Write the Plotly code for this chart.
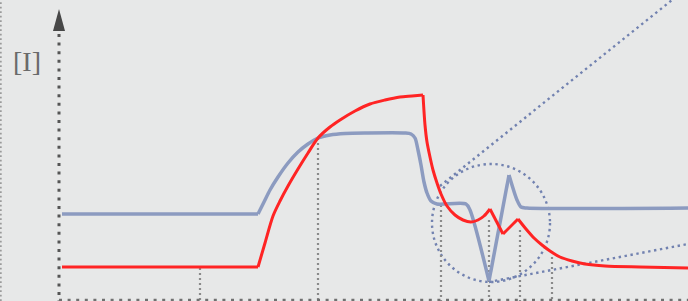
import plotly.graph_objects as go

# ---- data (schematic units: x = time, y = intensity [I]) ----
blue_x = [62, 258, 264, 270, 278, 288, 298, 308, 318, 330, 345, 365, 405, 411, 415, 418, 421, 424, 427, 431, 437, 466, 470, 489, 509, 517, 521, 527, 688]
blue_y = [87, 87, 99, 111, 124, 138, 149, 157, 163, 166, 167.5, 168, 168, 167, 163, 151, 136, 119, 108, 100, 97, 97, 91, 20, 126, 101, 94, 93, 93]
blue_corners = [1, 23, 24]

red_x = [62, 258, 265, 273, 280, 288, 298, 308, 318, 330, 340, 355, 370, 385, 400, 412, 423,
         425, 427, 430, 433, 437, 441, 447, 455, 463, 471, 478, 484, 490, 503, 518, 526, 534,
         542, 550, 560, 572, 585, 605, 640, 688]
red_y = [34, 34, 58, 85, 100, 115, 132, 148, 163, 174, 181, 190, 197, 201, 204, 205, 206,
         176, 159, 144, 131, 118, 107, 95, 86, 81, 79, 81, 85, 92, 67, 82, 72, 63,
         56, 50, 44, 40, 37, 35, 34, 33]
red_corners = [1, 16, 29, 30, 31]

drop_x = [200, 318, 441, 489, 520, 552]
drop_top = [33, 163, 96, 81, 71, 44]

zoom_cx, zoom_cy, zoom_r = 491, 78, 59
zoom_upper_x = [440, 672]
zoom_upper_y = [115, 301]
zoom_lower_x = [489, 688]
zoom_lower_y = [19, 57]

axis_origin_x = 59
axis_top_y = 267

BLUE = "#8c9bc0"
RED = "#ff2424"
ZOOMC = "#7282b0"
BG = "#e7e8e8"

fig = go.Figure()

# left dotted border
fig.add_trace(go.Scatter(x=[0.8, 0.8], y=[0, 301], mode="lines",
                         line=dict(color="#9a9a9a", width=1.8, dash="1.8px,2.7px"),
                         hoverinfo="skip", showlegend=False))

# drop lines
for dx, dt in zip(drop_x, drop_top):
    fig.add_trace(go.Scatter(x=[dx, dx], y=[dt, 0], mode="lines",
                             line=dict(color="#8a8a8a", width=2.2, dash="2px,3px"),
                             hoverinfo="skip", showlegend=False))

# zoom tangent lines
fig.add_trace(go.Scatter(x=zoom_upper_x, y=zoom_upper_y, mode="lines",
                         line=dict(color=ZOOMC, width=2.4, dash="2.4px,3.6px"),
                         hoverinfo="skip", showlegend=False))
fig.add_trace(go.Scatter(x=zoom_lower_x, y=zoom_lower_y, mode="lines",
                         line=dict(color=ZOOMC, width=2.4, dash="2.4px,3.6px"),
                         hoverinfo="skip", showlegend=False))

# axes (dotted)
fig.add_trace(go.Scatter(x=[axis_origin_x, axis_origin_x], y=[axis_top_y, 0], mode="lines",
                         line=dict(color="#555555", width=3, dash="3px,5.6px"),
                         hoverinfo="skip", showlegend=False))
fig.add_trace(go.Scatter(x=[axis_origin_x, 688], y=[1, 1], mode="lines",
                         line=dict(color="#707070", width=2.6, dash="3px,5.6px"),
                         hoverinfo="skip", showlegend=False))


def add_curve(xs, ys, corners, color, width):
    bounds = [0] + corners + [len(xs) - 1]
    for a, b in zip(bounds[:-1], bounds[1:]):
        fig.add_trace(go.Scatter(x=xs[a:b + 1], y=ys[a:b + 1], mode="lines",
                                 line=dict(color=color, width=width, shape="spline", smoothing=0.8),
                                 hoverinfo="skip", showlegend=False))


add_curve(blue_x, blue_y, blue_corners, BLUE, 3.5)
add_curve(red_x, red_y, red_corners, RED, 3)

fig.update_layout(
    width=688, height=301,
    margin=dict(l=0, r=0, t=0, b=0),
    paper_bgcolor=BG, plot_bgcolor=BG,
    xaxis=dict(range=[0, 688], visible=False, fixedrange=True),
    yaxis=dict(range=[0, 301], visible=False, fixedrange=True),
    shapes=[
        dict(type="circle", xref="x", yref="y",
             x0=zoom_cx - zoom_r, x1=zoom_cx + zoom_r,
             y0=zoom_cy - zoom_r, y1=zoom_cy + zoom_r,
             line=dict(color=ZOOMC, width=2.4, dash="2.4px,3.6px"), layer="below"),
        dict(type="path", xref="x", yref="y",
             path=f"M {axis_origin_x-6},{axis_top_y+3} L {axis_origin_x},{axis_top_y+25} L {axis_origin_x+6},{axis_top_y+3} Z",
             fillcolor="#474747", line=dict(width=0)),
    ],
    annotations=[
        dict(x=27, y=240, xref="x", yref="y", text="[I]", showarrow=False,
             font=dict(family="Liberation Serif", size=28, color="#6a6a6a"))
    ],
)

fig.write_html("out.html", config={"displayModeBar": False},
               post_script="document.body.style.margin='0';document.body.style.overflow='hidden';")
